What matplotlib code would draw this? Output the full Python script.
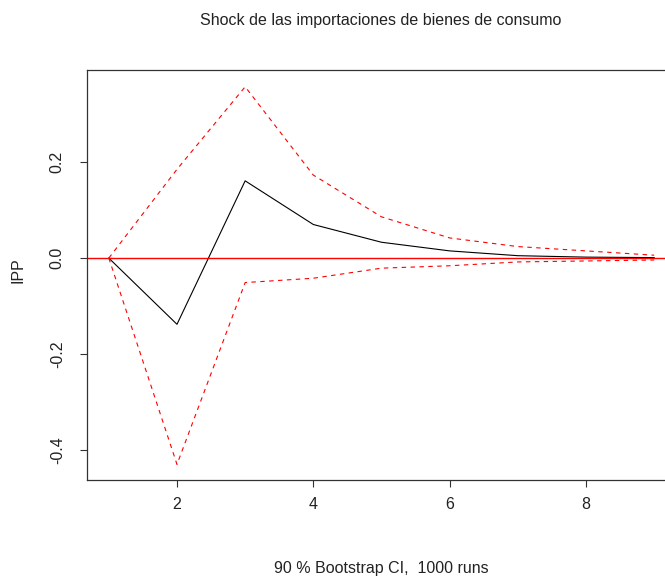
import numpy as np
import matplotlib.pyplot as plt
from matplotlib import rcParams

rcParams['font.family'] = ['Liberation Sans', 'DejaVu Sans']
rcParams['axes.unicode_minus'] = False

# respuesta al impulso (vars::irf), horizonte 1..9
periodo = [1, 2, 3, 4, 5, 6, 7, 8, 9]
irf = [0.0, -0.138, 0.161, 0.070, 0.033, 0.015, 0.005, 0.002, 0.001]
upper = [0.0, 0.185, 0.357, 0.173, 0.086, 0.042, 0.024, 0.015, 0.006]
lower = [0.0, -0.430, -0.051, -0.042, -0.021, -0.016, -0.008, -0.006, -0.004]
yticks = [-0.4, -0.2, 0.0, 0.2]
xticks = [2, 4, 6, 8]

W, H = 665, 576
fig = plt.figure(figsize=(W / 100, H / 100), dpi=100)
# el eje derecho queda fuera de la imagen, como en el original
ax = fig.add_axes([87 / W, (H - 480) / H, 589 / W, 410 / H])

ax.plot(periodo, irf, color='black', lw=0.8)
ax.plot(periodo, upper, color='red', lw=0.8, ls=(0, (4, 4)))
ax.plot(periodo, lower, color='red', lw=0.8, ls=(0, (4, 4)))
ax.axhline(0, color='red', lw=1.0)

ax.set_xlim(0.68, 9.32)
ax.set_ylim(-0.4625, 0.392)
ax.set_xticks(xticks)
ax.set_yticks(yticks)
ax.set_yticklabels(['%.1f' % v for v in yticks], rotation=90, va='center')
ax.tick_params(axis='both', length=5, width=0.8, labelsize=11.5,
               color='#333333', labelcolor='#222222')
ax.tick_params(axis='x', pad=7)
ax.tick_params(axis='y', pad=11)
for s in ax.spines.values():
    s.set_linewidth(0.9)
    s.set_color('#333333')

fig.text(381 / W, 1 - 20 / H, 'Shock de las importaciones de bienes de consumo',
         ha='center', va='center', fontsize=11.5, color='#222222')
fig.text(381 / W, 1 - 568 / H, '90 % Bootstrap CI,  1000 runs',
         ha='center', va='center', fontsize=11.5, color='#222222')
fig.text(18 / W, 1 - 270 / H, 'IPP', ha='center', va='center', rotation=90,
         fontsize=11.5, color='#222222')

fig.savefig('out.png', dpi=100)
